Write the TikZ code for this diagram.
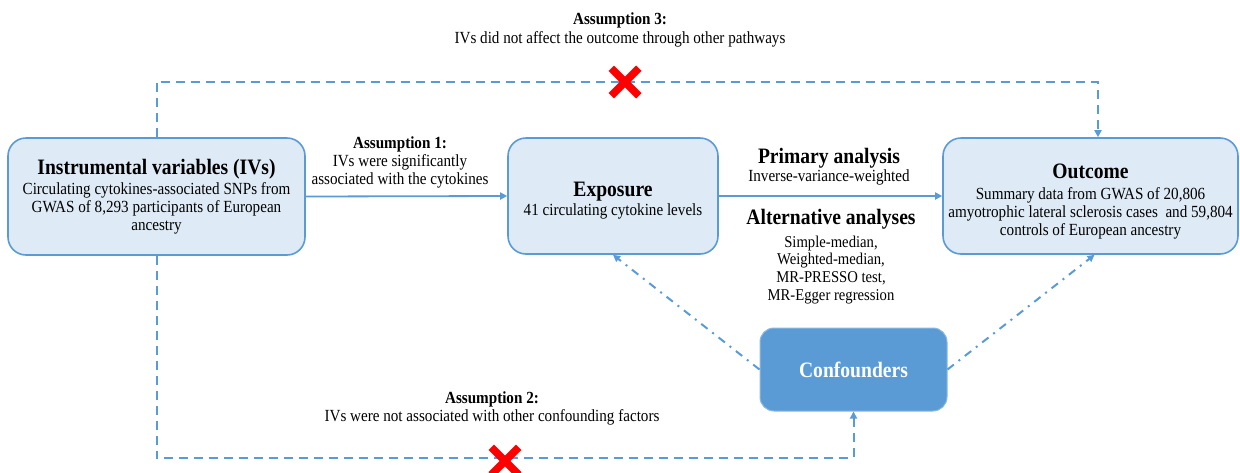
\documentclass[tikz,border=0pt]{standalone}
\usepackage{fontspec}
\setmainfont{Liberation Serif}[FakeStretch=0.89]
\usetikzlibrary{arrows.meta,shapes.misc}
\definecolor{lineblue}{HTML}{5B9BD5}
\definecolor{boxfill}{HTML}{DEEBF7}
\definecolor{xred}{HTML}{FF0000}
\newcommand{\bodyf}{\fontsize{17}{18}\selectfont}
\newcommand{\ttlf}{\fontsize{22}{22}\selectfont\bfseries}
\newcommand{\asmf}{\fontsize{17}{18}\selectfont\bfseries}
\tikzset{
  box/.style={draw=lineblue, line width=1.6pt, fill=boxfill, rounded corners=18pt, inner sep=0pt, align=center, font=\bodyf},
  confbox/.style={draw=lineblue!70!white, line width=1pt, fill=lineblue, rounded corners=14pt, inner sep=0pt, align=center, text=white, font=\ttlf},
  solidarrow/.style={draw=lineblue, line width=1.8pt, -{Triangle[length=7pt,width=7pt]}},
  dasharrow/.style={draw=lineblue, line width=2pt, dash pattern=on 9pt off 6pt, -{Triangle[length=7pt,width=7pt]}},
  dotdash/.style={draw=lineblue, line width=2pt, dash pattern=on 8pt off 6pt on 2pt off 6pt, -{Triangle[length=7pt,width=7pt]}},
  redx/.style={cross out, draw=xred, line width=7.5pt, minimum size=20pt, inner sep=0pt},
  lbl/.style={align=center, inner sep=0pt, font=\bodyf},
}
\begin{document}
\begin{tikzpicture}[x=1pt,y=-1pt]
\useasboundingbox (0,0) rectangle (1240,472);

\node[box, minimum width=297pt, minimum height=117pt] (iv) at (156.5,196.5)
  {\ttlf Instrumental variables (IVs)\\[2pt]
   Circulating cytokines-associated SNPs from\\ GWAS of 8,293 participants of European\\ ancestry};
\node[box, minimum width=210pt, minimum height=116pt] (exp) at (613,196)
  {\ttlf\rule{0pt}{24pt}Exposure\\[1pt] 41 circulating cytokine levels};
\node[box, minimum width=295pt, minimum height=116pt] (out) at (1090.5,196)
  {\ttlf\rule{0pt}{26pt}Outcome\\[3pt]
   Summary data from GWAS of 20,806\\ amyotrophic lateral sclerosis cases\ \ and 59,804\\ controls of European ancestry};
\node[confbox, minimum width=187pt, minimum height=83pt] (conf) at (853.5,369.5)
  {Confounders};

% labels
\node[lbl] (a3) at (620,29.5) {\asmf Assumption 3:\\[1pt] IVs did not affect the outcome through other pathways};
\node[lbl] (a1) at (400,162) {\asmf Assumption 1:\\ IVs were significantly\\ associated with the cytokines};
\node[lbl] (a2) at (492,408) {\asmf Assumption 2:\\ IVs were not associated with other confounding factors};
\node[lbl] (pa) at (829,166.5) {\ttlf Primary analysis\\[0pt] Inverse-variance-weighted};
\node[lbl, font=\fontsize{16.5}{17.7}\selectfont] (aa) at (831,256.5) {\ttlf Alternative analyses\\[5pt]
  Simple-median,\\ Weighted-median,\\ MR-PRESSO test,\\ MR-Egger regression};

% solid arrows
\draw[solidarrow] (iv.east) -- (exp.west);
\draw[solidarrow] (exp.east) -- (out.west);

% dashed paths
\coordinate (t2) at (1098,82);
\coordinate (b2) at (853.5,458);
\draw[dasharrow] (iv.north) |- (t2) -- (t2 |- out.north);
\draw[dasharrow] (iv.south) |- (b2) -- (conf.south);

% dash-dot
\draw[dotdash] (conf.west) -- (exp.south);
\draw[dotdash] (conf.east) -- ([xshift=4pt]out.south);

% red crosses
\node[redx] (x3) at (625,82) {};
\node[redx] (x2) at (505,461) {};
\end{tikzpicture}
\end{document}
